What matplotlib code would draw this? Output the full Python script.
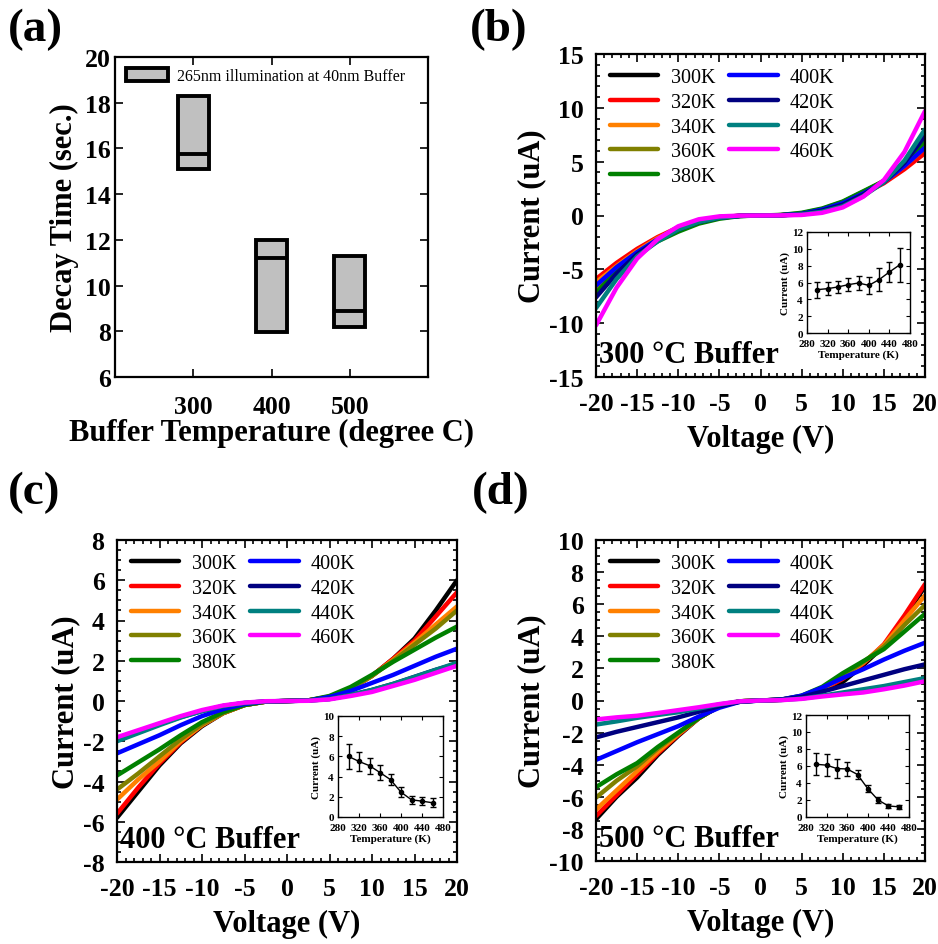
import matplotlib
matplotlib.use("Agg")
import matplotlib.pyplot as plt
from matplotlib.ticker import MultipleLocator

plt.rcParams['font.family'] = ['Liberation Serif', 'DejaVu Serif']
plt.rcParams['axes.unicode_minus'] = False

# ---- panel (a): decay time boxes ----
buffer_temps = [300, 400, 500]
box_low = [15.1, 7.95, 8.2]
box_high = [18.3, 12.0, 11.3]
box_mid = [15.75, 11.2, 8.9]

# ---- IV curves ----
volts = [-20, -17.5, -15, -12.5, -10, -7.5, -5, -2.5, 0, 2.5, 5, 7.5, 10, 12.5, 15, 17.5, 20]
temp_labels = ['300K', '320K', '340K', '360K', '380K', '400K', '420K', '440K', '460K']
colors = ['#000000', '#ff0000', '#ff8000', '#808000', '#008000',
          '#0000ff', '#000080', '#008080', '#ff00ff']

iv_300C = [
    [-6.0, -4.6, -3.3, -2.1, -1.2, -0.5, -0.15, -0.03, 0, 0.03, 0.15, 0.5, 1.2, 2.1, 3.2, 4.6, 6.1],
    [-5.9, -4.4, -3.1, -2.0, -1.1, -0.5, -0.15, -0.03, 0, 0.03, 0.15, 0.5, 1.1, 2.0, 3.0, 4.3, 5.8],
    [-6.2, -4.7, -3.3, -2.1, -1.2, -0.55, -0.18, -0.03, 0, 0.03, 0.15, 0.55, 1.2, 2.1, 3.1, 4.6, 6.3],
    [-6.8, -5.0, -3.5, -2.3, -1.35, -0.65, -0.22, -0.04, 0, 0.04, 0.2, 0.6, 1.25, 2.2, 3.2, 4.7, 6.6],
    [-7.2, -5.2, -3.6, -2.4, -1.5, -0.75, -0.3, -0.05, 0, 0.05, 0.25, 0.65, 1.3, 2.25, 3.2, 4.8, 6.9],
    [-6.5, -4.8, -3.4, -2.2, -1.25, -0.55, -0.18, -0.03, 0, 0.03, 0.15, 0.55, 1.15, 2.05, 3.1, 4.6, 6.3],
    [-7.6, -5.4, -3.6, -2.3, -1.3, -0.6, -0.2, -0.04, 0, 0.03, 0.12, 0.45, 1.0, 1.95, 3.1, 4.9, 7.4],
    [-8.6, -5.9, -3.8, -2.4, -1.3, -0.6, -0.2, -0.04, 0, 0.02, 0.1, 0.35, 0.85, 1.8, 3.1, 5.1, 8.0],
    [-10.2, -6.7, -4.0, -2.2, -1.0, -0.35, -0.08, -0.01, 0, 0.01, 0.05, 0.25, 0.75, 1.75, 3.3, 5.9, 9.7],
]
iv_400C = [
    [-5.8, -4.5, -3.2, -2.1, -1.25, -0.6, -0.2, -0.03, 0, 0.03, 0.2, 0.6, 1.25, 2.1, 3.1, 4.5, 6.0],
    [-5.6, -4.3, -3.1, -2.05, -1.2, -0.6, -0.2, -0.03, 0, 0.03, 0.2, 0.6, 1.25, 2.1, 3.0, 4.2, 5.4],
    [-4.9, -3.9, -3.0, -2.0, -1.2, -0.6, -0.2, -0.03, 0, 0.03, 0.2, 0.6, 1.25, 2.05, 2.9, 3.8, 4.7],
    [-4.4, -3.6, -2.75, -1.9, -1.15, -0.6, -0.2, -0.03, 0, 0.03, 0.22, 0.62, 1.25, 2.0, 2.8, 3.6, 4.5],
    [-3.7, -3.05, -2.4, -1.7, -1.05, -0.55, -0.2, -0.03, 0, 0.03, 0.25, 0.7, 1.3, 1.95, 2.55, 3.15, 3.7],
    [-2.6, -2.15, -1.7, -1.2, -0.75, -0.4, -0.15, -0.02, 0, 0.02, 0.2, 0.5, 0.9, 1.3, 1.75, 2.2, 2.6],
    [-1.95, -1.55, -1.15, -0.8, -0.5, -0.25, -0.1, -0.02, 0, 0.02, 0.1, 0.3, 0.55, 0.85, 1.2, 1.55, 1.85],
    [-2.0, -1.6, -1.2, -0.82, -0.5, -0.25, -0.1, -0.02, 0, 0.02, 0.1, 0.3, 0.55, 0.85, 1.2, 1.55, 1.9],
    [-1.8, -1.45, -1.1, -0.75, -0.45, -0.22, -0.08, -0.01, 0, 0.01, 0.08, 0.25, 0.45, 0.75, 1.05, 1.4, 1.75],
]
iv_500C = [
    [-7.4, -6.0, -4.8, -3.4, -2.2, -1.1, -0.35, -0.05, 0, 0.04, 0.2, 0.55, 1.15, 2.2, 3.4, 5.2, 7.1],
    [-7.2, -5.9, -4.6, -3.3, -2.15, -1.1, -0.35, -0.05, 0, 0.05, 0.25, 0.65, 1.35, 2.3, 3.5, 5.3, 7.25],
    [-6.8, -5.6, -4.4, -3.2, -2.1, -1.1, -0.35, -0.05, 0, 0.05, 0.25, 0.7, 1.45, 2.35, 3.45, 5.0, 6.55],
    [-6.05, -5.0, -4.1, -3.0, -2.05, -1.1, -0.35, -0.05, 0, 0.05, 0.28, 0.75, 1.55, 2.4, 3.35, 4.7, 5.95],
    [-5.4, -4.6, -3.9, -2.9, -2.0, -1.1, -0.35, -0.05, 0, 0.05, 0.3, 0.85, 1.7, 2.45, 3.2, 4.3, 5.4],
    [-3.7, -3.15, -2.6, -2.1, -1.6, -1.0, -0.45, -0.08, 0, 0.06, 0.3, 0.8, 1.4, 1.95, 2.55, 3.1, 3.6],
    [-2.3, -1.95, -1.65, -1.35, -1.05, -0.7, -0.35, -0.08, 0, 0.05, 0.22, 0.55, 0.9, 1.25, 1.6, 1.95, 2.25],
    [-1.5, -1.3, -1.08, -0.9, -0.73, -0.5, -0.25, -0.05, 0, 0.03, 0.12, 0.3, 0.5, 0.7, 0.9, 1.15, 1.4],
    [-1.18, -1.05, -0.95, -0.78, -0.6, -0.42, -0.22, -0.05, 0, 0.02, 0.1, 0.25, 0.38, 0.5, 0.7, 0.93, 1.2],
]

# ---- insets: current at 20 V vs temperature ----
inset_T = [300, 320, 340, 360, 380, 400, 420, 440, 460]
inset_300C = [5.15, 5.27, 5.47, 5.74, 5.94, 5.66, 6.34, 7.25, 8.1]
inset_300C_err = [0.95, 0.8, 0.7, 0.8, 0.85, 1.0, 1.4, 1.2, 2.0]
inset_400C = [6.0, 5.5, 5.08, 4.4, 3.7, 2.46, 1.7, 1.57, 1.41]
inset_400C_err = [1.2, 0.95, 0.8, 0.7, 0.55, 0.5, 0.4, 0.4, 0.45]
inset_500C = [6.2, 6.1, 5.7, 5.65, 5.0, 3.33, 2.0, 1.3, 1.2]
inset_500C_err = [1.3, 1.3, 1.1, 0.8, 0.5, 0.4, 0.35, 0.25, 0.25]

W, H = 938, 945
fig = plt.figure(figsize=(W / 100, H / 100), dpi=100)


def px_axes(x0, y0, x1, y1):
    return fig.add_axes([x0 / W, 1 - y1 / H, (x1 - x0) / W, (y1 - y0) / H])


def style_axes(ax):
    for s in ax.spines.values():
        s.set_linewidth(1.6)
    ax.tick_params(which='both', direction='in', top=True, right=True, width=1.2)
    ax.tick_params(which='major', length=6)
    ax.tick_params(which='minor', length=3)
    for lab in ax.get_xticklabels() + ax.get_yticklabels():
        lab.set_fontweight('bold')
        lab.set_fontsize(18.5)


# ---- (a) ----
axa = px_axes(115, 58, 428, 378)
axa.bar(buffer_temps, [h - l for h, l in zip(box_high, box_low)], bottom=box_low,
        width=40, facecolor='#c0c0c0', edgecolor='black', linewidth=2.8,
        label='265nm illumination at 40nm Buffer')
axa.hlines(box_mid, [t - 20 for t in buffer_temps], [t + 20 for t in buffer_temps],
           color='black', linewidth=2.8)
axa.set_xlim(200, 600)
axa.set_ylim(6, 20)
axa.set_xticks(buffer_temps)
axa.set_yticks(range(6, 21, 2))
style_axes(axa)
axa.tick_params(axis='x', pad=13)
axa.tick_params(axis='y', pad=3)
axa.set_xlabel('Buffer Temperature (degree C)', fontsize=22, fontweight='bold', labelpad=0)
axa.set_ylabel('Decay Time (sec.)', fontsize=22, fontweight='bold', labelpad=4)
axa.legend(loc='upper left', frameon=False, fontsize=11.5, handlelength=2.6,
           handleheight=0.9, borderaxespad=0.3, handletextpad=0.6)


def iv_panel(box, curves, ylim, ystep, yminor, title, inset_box, ivals, ierr, iymax):
    ax = px_axes(*box)
    for vals, c, lab in zip(curves, colors, temp_labels):
        ax.plot(volts, vals, color=c, linewidth=3.2, label=lab, solid_capstyle='round')
    ax.set_xlim(-20, 20)
    ax.set_ylim(*ylim)
    ax.set_xticks(range(-20, 21, 5))
    ax.set_yticks(range(ylim[0], ylim[1] + 1, ystep))
    ax.xaxis.set_minor_locator(MultipleLocator(1))
    ax.yaxis.set_minor_locator(MultipleLocator(yminor))
    style_axes(ax)
    ax.tick_params(axis='x', pad=11)
    ax.tick_params(axis='y', pad=9)
    ax.set_xlabel('Voltage (V)', fontsize=22, fontweight='bold', labelpad=6)
    ax.set_ylabel('Current (uA)', fontsize=22, fontweight='bold', labelpad=2)
    ax.legend(loc='upper left', ncol=2, frameon=False, fontsize=14.5,
              handlelength=2.4, handletextpad=0.6, labelspacing=0.28,
              columnspacing=0.7, borderaxespad=0.3)
    ax.text(0.01, 0.025, title, transform=ax.transAxes, fontsize=22,
            fontweight='bold', ha='left', va='bottom')

    ins = px_axes(*inset_box)
    ins.errorbar(inset_T, ivals, yerr=ierr, color='black', marker='o', ms=3,
                 lw=1, elinewidth=1, capsize=2)
    ins.set_xlim(280, 480)
    ins.set_ylim(0, iymax)
    ins.set_xticks(range(280, 481, 40))
    ins.set_yticks(range(0, iymax + 1, 2))
    for s in ins.spines.values():
        s.set_linewidth(1.0)
    ins.tick_params(which='both', direction='in', top=True, right=True,
                    length=3, width=0.8)
    ins.tick_params(axis='x', pad=4)
    ins.tick_params(axis='y', pad=3)
    for lab in ins.get_xticklabels() + ins.get_yticklabels():
        lab.set_fontweight('bold')
        lab.set_fontsize(8)
    ins.set_xlabel('Temperature (K)', fontsize=8, fontweight='bold', labelpad=1)
    ins.set_ylabel('Current (uA)', fontsize=8, fontweight='bold', labelpad=1)
    return ax


iv_panel((596, 55, 925, 378), iv_300C, (-15, 15), 5, 1, '300 °C Buffer',
         (807, 233, 910, 334), inset_300C, inset_300C_err, 12)
iv_panel((117, 541, 457, 863), iv_400C, (-8, 8), 2, 0.5, '400 °C Buffer',
         (338, 717, 443, 818), inset_400C, inset_400C_err, 10)
iv_panel((596, 541, 925, 862), iv_500C, (-10, 10), 2, 0.5, '500 °C Buffer',
         (806, 716, 909, 818), inset_500C, inset_500C_err, 12)

# panel letters
for lbl, x, y in [('(a)', 8, 30), ('(b)', 470, 30), ('(c)', 8, 493), ('(d)', 472, 493)]:
    fig.text(x / W, 1 - y / H, lbl, fontsize=34, fontweight='bold', ha='left', va='center')

fig.savefig('out.png', dpi=100)
